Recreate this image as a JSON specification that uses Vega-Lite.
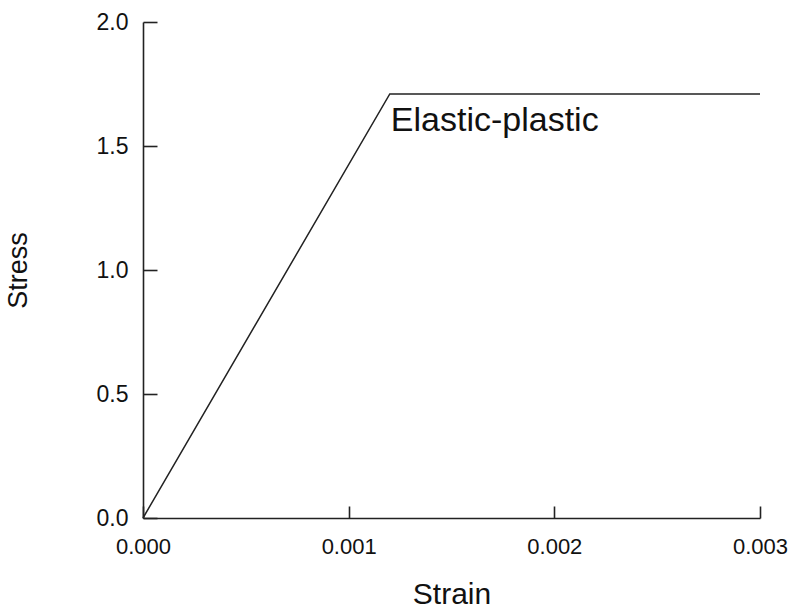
{
  "$schema": "https://vega.github.io/schema/vega-lite/v6.json",
  "width": 617,
  "height": 496,
  "autosize": {"type": "none"},
  "padding": {"left": 143, "top": 22, "right": 34, "bottom": 91},
  "background": "white",
  "config": {
    "view": {"stroke": null},
    "font": "Liberation Sans",
    "axis": {
      "grid": false,
      "labelFlush": false,
      "labelOverlap": false,
      "domainColor": "#222",
      "domainWidth": 1.6,
      "tickColor": "#222",
      "tickWidth": 1.6,
      "labelColor": "#111",
      "titleColor": "#111",
      "labelFont": "Liberation Sans",
      "titleFont": "Liberation Sans",
      "titleFontWeight": "normal"
    }
  },
  "resolve": {"axis": {"x": "independent", "y": "independent"}},
  "layer": [
    {
      "data": {"values": [
        {"strain": 0.0, "stress": 0.0},
        {"strain": 0.0012, "stress": 1.71},
        {"strain": 0.003, "stress": 1.71}
      ]},
      "mark": {"type": "line", "color": "#222", "strokeWidth": 1.5},
      "encoding": {
        "x": {"field": "strain", "type": "quantitative",
          "scale": {"domain": [0, 0.003], "nice": false},
          "axis": {"orient": "bottom", "title": "Strain", "values": [0, 0.001, 0.002, 0.003], "format": ".3f",
            "ticks": false, "tickSize": 0, "labelPadding": 18, "labelFontSize": 22, "titleFontSize": 30, "titlePadding": 22}},
        "y": {"field": "stress", "type": "quantitative",
          "scale": {"domain": [0, 2], "nice": false},
          "axis": {"orient": "left", "title": "Stress", "values": [0, 0.5, 1, 1.5, 2], "format": ".1f",
            "ticks": false, "tickSize": 0, "labelPadding": 15, "labelFontSize": 23, "titleFontSize": 27, "titlePadding": 64}}
      }
    },
    {
      "data": {"values": [{"strain": 0.0012, "stress": 1.6, "label": "Elastic-plastic"}]},
      "mark": {"type": "text", "align": "left", "baseline": "middle", "fontSize": 34, "color": "#111", "dx": 1},
      "encoding": {
        "x": {"field": "strain", "type": "quantitative",
          "axis": {"orient": "top", "offset": -496, "title": null, "values": [0, 0.001, 0.002, 0.003],
            "labels": false, "domain": false, "ticks": true, "tickSize": 12}},
        "y": {"field": "stress", "type": "quantitative",
          "axis": {"orient": "right", "offset": -617, "title": null, "values": [0, 0.5, 1, 1.5, 2],
            "labels": false, "domain": false, "ticks": true, "tickSize": 14}},
        "text": {"field": "label"}
      }
    }
  ]
}
